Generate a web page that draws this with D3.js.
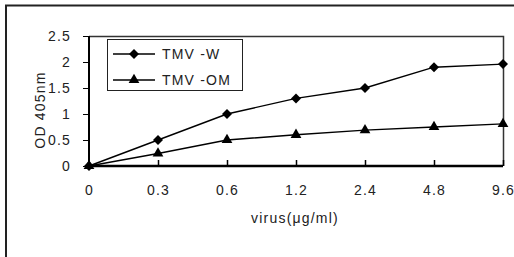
<!DOCTYPE html>
<html>
  <head>
    <meta charset="utf-8">
    <script src="https://d3js.org/d3.v7.min.js"></script>
    <style type="text/css">
      body { margin: 0; background: #fff; }
      svg { display: block; }
      text { font-family: "Liberation Sans", "DejaVu Sans", sans-serif; font-size: 14px; fill: #222; letter-spacing: 1.2px; }
    </style>
  </head>
  <body>
    <div id="chart"></div>
    <script type="text/javascript">
      var categories = ["0", "0.3", "0.6", "1.2", "2.4", "4.8", "9.6"];
      var tmvW = [0, 0.5, 1.0, 1.3, 1.5, 1.9, 1.96];
      var tmvOM = [0, 0.24, 0.5, 0.6, 0.69, 0.75, 0.81];
      var seriesNames = ["TMV -W", "TMV -OM"];
      var yTicks = [0, 0.5, 1, 1.5, 2, 2.5];

      var width = 514, height = 257,
          plotLeft = 89, plotRight = 503, plotTop = 36, plotBottom = 166;

      var svg = d3.select("#chart").append("svg")
          .attr("width", width)
          .attr("height", height);

      // outer frame (top and left only are visible)
      svg.append("path")
        .attr("d", "M6,257 V5.5 H514")
        .attr("fill", "none")
        .attr("stroke", "#222")
        .attr("stroke-width", 2);

      var x = d3.scalePoint().domain(categories).range([plotLeft, plotRight]);
      var y = d3.scaleLinear().domain([0, 2.5]).range([plotBottom, plotTop]);

      // plot frame
      svg.append("path")
        .attr("d", "M" + plotLeft + "," + (plotTop + 0.5) + " H" + (plotRight + 0.5) + " V" + plotBottom)
        .attr("fill", "none")
        .attr("stroke", "#333")
        .attr("stroke-width", 1.5);

      var yAxis = svg.append("g")
        .attr("transform", "translate(" + plotLeft + ",0)")
        .call(d3.axisLeft(y).tickValues(yTicks).tickSize(6).tickPadding(12)
          .tickFormat(function(d) { return d; }));
      yAxis.select(".domain").attr("stroke", "#000").attr("stroke-width", 2).attr("d", "M0," + plotTop + "V" + plotBottom);
      yAxis.selectAll(".tick line").attr("stroke", "#000");
      yAxis.selectAll("text").attr("font-size", null).attr("fill", null).attr("font-family", null);

      var xAxis = svg.append("g")
        .attr("transform", "translate(0," + plotBottom + ")")
        .call(d3.axisBottom(x).tickSize(-6).tickPadding(19));
      xAxis.select(".domain").attr("stroke", "#000").attr("stroke-width", 2.5).attr("d", "M" + plotLeft + ",0H" + plotRight);
      xAxis.selectAll(".tick line").attr("stroke", "#000").attr("stroke-width", 1.5);
      xAxis.selectAll(".tick").filter(function(d, i) { return i === 0; }).select("line").remove();
      xAxis.selectAll("text").attr("font-size", null).attr("fill", null).attr("font-family", null);

      svg.append("text")
        .attr("x", 295).attr("y", 223)
        .attr("text-anchor", "middle")
        .text("virus(\u03bcg/ml)");

      svg.append("text")
        .attr("transform", "translate(45,110) rotate(-90)")
        .attr("text-anchor", "middle")
        .text("OD 405nm");

      var line = d3.line()
        .x(function(d, i) { return x(categories[i]); })
        .y(function(d) { return y(d); });

      var diamond = d3.symbol().type(d3.symbolSquare).size(50);
      var triangle = d3.symbol().type(d3.symbolTriangle).size(50);
      var shapes = [diamond, triangle];
      var rotations = [45, 0];

      [tmvW, tmvOM].forEach(function(vals, s) {
        svg.append("path")
          .attr("d", line(vals))
          .attr("fill", "none")
          .attr("stroke", "#000")
          .attr("stroke-width", 1.4);
        svg.append("g").selectAll("path")
          .data(vals)
          .enter()
            .append("path")
            .attr("transform", function(d, i) {
              return "translate(" + x(categories[i]) + "," + y(d) + ") rotate(" + rotations[s] + ")";
            })
            .attr("d", shapes[s])
            .attr("fill", "#000");
      });

      // legend
      var legend = svg.append("g");
      legend.append("rect")
        .attr("x", 107.5).attr("y", 39.5)
        .attr("width", 135).attr("height", 51)
        .attr("fill", "#fff")
        .attr("stroke", "#222");
      seriesNames.forEach(function(name, s) {
        var ly = 54 + s * 26;
        legend.append("line")
          .attr("x1", 113).attr("x2", 155)
          .attr("y1", ly).attr("y2", ly)
          .attr("stroke", "#000").attr("stroke-width", 1.4);
        legend.append("path")
          .attr("transform", "translate(134," + ly + ") rotate(" + rotations[s] + ")")
          .attr("d", shapes[s])
          .attr("fill", "#000");
        legend.append("text")
          .attr("x", 162).attr("y", ly + 5)
          .text(name);
      });
    </script>
  </body>
</html>
